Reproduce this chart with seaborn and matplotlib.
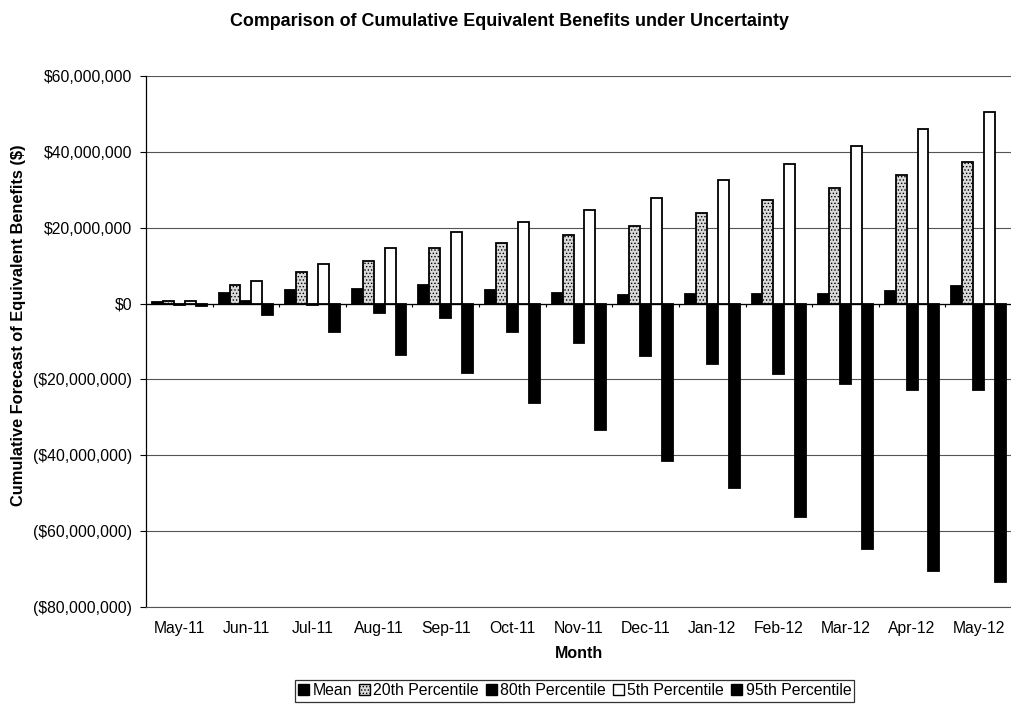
import numpy as np
import pandas as pd
import matplotlib
matplotlib.use("Agg")
import matplotlib.pyplot as plt
from matplotlib.ticker import FuncFormatter, FixedLocator
import seaborn as sns

# Months on the horizontal axis
months = ["May-11", "Jun-11", "Jul-11", "Aug-11", "Sep-11", "Oct-11", "Nov-11",
          "Dec-11", "Jan-12", "Feb-12", "Mar-12", "Apr-12", "May-12"]

# Cumulative forecast of equivalent benefits, in $ millions
mean_vals = [0.4, 2.8, 3.5, 3.9, 4.8, 3.6, 2.8, 2.2, 2.5, 2.6, 2.5, 3.3, 4.7]
p20_vals = [0.6, 4.8, 8.3, 11.1, 14.6, 16.1, 18.2, 20.5, 24.0, 27.2, 30.6, 33.8, 37.4]
p80_vals = [-0.3, 0.8, -0.3, -2.6, -3.8, -7.5, -10.3, -13.7, -16.0, -18.5, -21.3, -22.7, -22.9]
p5_vals = [0.8, 5.9, 10.5, 14.7, 18.9, 21.6, 24.6, 27.9, 32.6, 36.9, 41.6, 46.1, 50.5]
p95_vals = [-0.7, -2.9, -7.5, -13.6, -18.3, -26.3, -33.4, -41.5, -48.7, -56.2, -64.6, -70.4, -73.5]

series_names = ["Mean", "20th Percentile", "80th Percentile", "5th Percentile", "95th Percentile"]
series_vals = [mean_vals, p20_vals, p80_vals, p5_vals, p95_vals]
series_colors = ["#000000", "#dadada", "#000000", "#ffffff", "#000000"]

rows = []
for name, vals in zip(series_names, series_vals):
    for m, v in zip(months, vals):
        rows.append({"Month": m, "Series": name, "Value": v * 1e6})
df = pd.DataFrame(rows)

sns.set_style("white")
plt.rcParams["font.family"] = ["Liberation Sans", "DejaVu Sans"]
plt.rcParams["text.color"] = "black"
plt.rcParams["axes.labelcolor"] = "black"
plt.rcParams["xtick.color"] = "black"
plt.rcParams["ytick.color"] = "black"
plt.rcParams["hatch.color"] = "#9a9a9a"
plt.rcParams["hatch.linewidth"] = 0.6

fig = plt.figure(figsize=(10.12, 7.05), dpi=100)
ax = fig.add_axes([146 / 1012, 1 - 607 / 705, 1 - 146 / 1012, (607 - 76) / 705])

sns.barplot(data=df, x="Month", y="Value", hue="Series", order=months,
            hue_order=series_names, palette=dict(zip(series_names, series_colors)),
            width=0.82, gap=0, edgecolor="black", linewidth=1.3, saturation=1,
            errorbar=None, ax=ax, legend=False, zorder=3)

# Dotted fill for the 20th percentile bars
for patch in ax.containers[1]:
    patch.set_hatch(".....")

ax.set_ylim(-80e6, 60e6)
ax.set_xlim(-0.5, len(months) - 0.5)
ax.yaxis.set_major_locator(FixedLocator(np.arange(-80e6, 60e6 + 1, 20e6)))


def money(v, _pos):
    if v < 0:
        return "(${:,.0f})".format(-v)
    return "${:,.0f}".format(v)


ax.yaxis.set_major_formatter(FuncFormatter(money))
ax.grid(axis="y", color="#555555", linewidth=0.8, zorder=0)
ax.set_axisbelow(True)

for side in ["top", "right"]:
    ax.spines[side].set_visible(False)
ax.spines["left"].set_color("black")
ax.spines["left"].set_linewidth(0.9)
ax.spines["bottom"].set_color("#555555")
ax.spines["bottom"].set_linewidth(0.8)

# Zero line with category separator ticks
ax.axhline(0, color="black", linewidth=0.9, zorder=2)
ax.vlines(np.arange(len(months) - 1) + 0.5, -0.8e6, 0, color="black", linewidth=0.8, zorder=2)

ax.tick_params(axis="y", which="major", length=4, width=0.8, direction="out",
               left=True, labelsize=11.3, pad=6, colors="black")
ax.tick_params(axis="x", length=0, labelsize=11.3, pad=10, colors="black")

ax.set_xlabel("Month", fontsize=11.5, fontweight="bold", labelpad=7, color="black")
ax.set_ylabel("Cumulative Forecast of Equivalent Benefits ($)", fontsize=11.8,
              fontweight="bold", color="black")
ax.yaxis.set_label_coords(-0.138, 0.531)
fig.suptitle("Comparison of Cumulative Equivalent Benefits under Uncertainty",
             fontsize=12.9, fontweight="bold", x=0.503, y=0.982, color="black")

handles = [plt.Rectangle((0, 0), 1, 1, facecolor=c, edgecolor="black", linewidth=1.0,
                         hatch="....." if n == "20th Percentile" else None)
           for n, c in zip(series_names, series_colors)]
leg = ax.legend(handles, series_names, loc="center", bbox_to_anchor=(0.495, -0.158),
                ncol=5, frameon=True, fancybox=False, edgecolor="black",
                fontsize=11.4, handlelength=0.7, handleheight=0.7, handletextpad=0.2,
                columnspacing=0.45, borderpad=0.2, borderaxespad=0)
leg.get_frame().set_linewidth(0.9)
for t in leg.get_texts():
    t.set_color("black")

fig.savefig("out.png", dpi=100)
